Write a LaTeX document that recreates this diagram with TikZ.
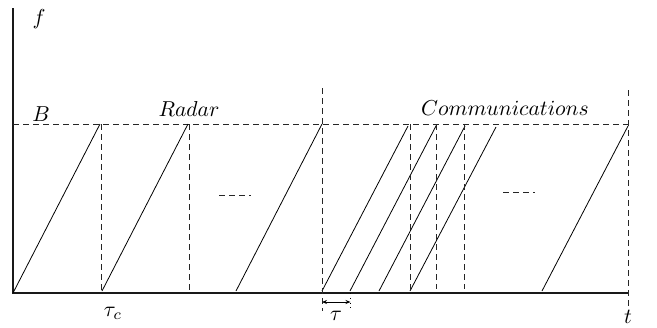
\documentclass[tikz,border=0pt]{standalone}
\usetikzlibrary{arrows.meta}
\begin{document}
\begin{tikzpicture}[x=0.5pt,y=-0.5pt,
  dsh/.style={dash pattern=on 3pt off 2pt, line width=0.4pt, gray!30!black},
  chirp/.style={line width=0.4pt},
  lbl/.style={inner sep=0pt, scale=1.08}]
\useasboundingbox (0,0) rectangle (657,327);
% axes
\coordinate (O) at (13,293);
\coordinate (ytop) at (13,8);
\coordinate (xend) at (628,293);
\draw[line width=0.6pt, gray!20!black] (ytop) -- (O) -- (xend);
% B level
\draw[dsh] (13,124) -- (628,124);
% radar chirps
\draw[chirp] (13,293) -- (100,124);
\draw[chirp] (102,291) -- (188,124);
\draw[chirp] (236,291) -- (322,124);
% communication chirps
\draw[chirp] (322,291) -- (408,126);
\draw[chirp] (350,291) -- (436.5,125);
\draw[chirp] (379,291) -- (465,126);
\draw[chirp] (410,291) -- (496,127);
\draw[chirp] (542,291) -- (628,126);
% vertical dashed lines
\draw[dsh] (101,124) -- (101,291);
\draw[dsh] (189,124) -- (189,291);
\draw[dsh] (322,88) -- (322,311);
\draw[dsh] (410.7,124) -- (410.7,291);
\draw[dsh] (436,124) -- (436,289);
\draw[dsh] (464,124) -- (464,289);
\draw[dsh] (628,90) -- (628,306);
% ellipses
\draw[dsh] (219,195) -- (251,195);
\draw[dsh] (503,192) -- (535,192);
% tau
\coordinate (ta) at (322,302);
\coordinate (tb) at (350.5,302);
\draw[dotted] (350.5,293) -- (350.5,311);
\draw[{Stealth[length=2.5pt,width=2pt]}-{Stealth[length=2.5pt,width=2pt]}, line width=0.4pt] (ta) -- (tb);
% labels
\node[lbl] (lf) at (39,19) {$f$};
\node[lbl] (lB) at (41,114) {$B$};
\node[lbl] (lR) at (189,109) {$Radar$};
\node[lbl] (lC) at (505,108) {$Communications$};
\node[lbl] (ltc) at (113,313) {$\tau_c$};
\node[lbl] (ltau) at (336,316) {$\tau$};
\node[lbl] (lt) at (628,317) {$t$};
\end{tikzpicture}
\end{document}
